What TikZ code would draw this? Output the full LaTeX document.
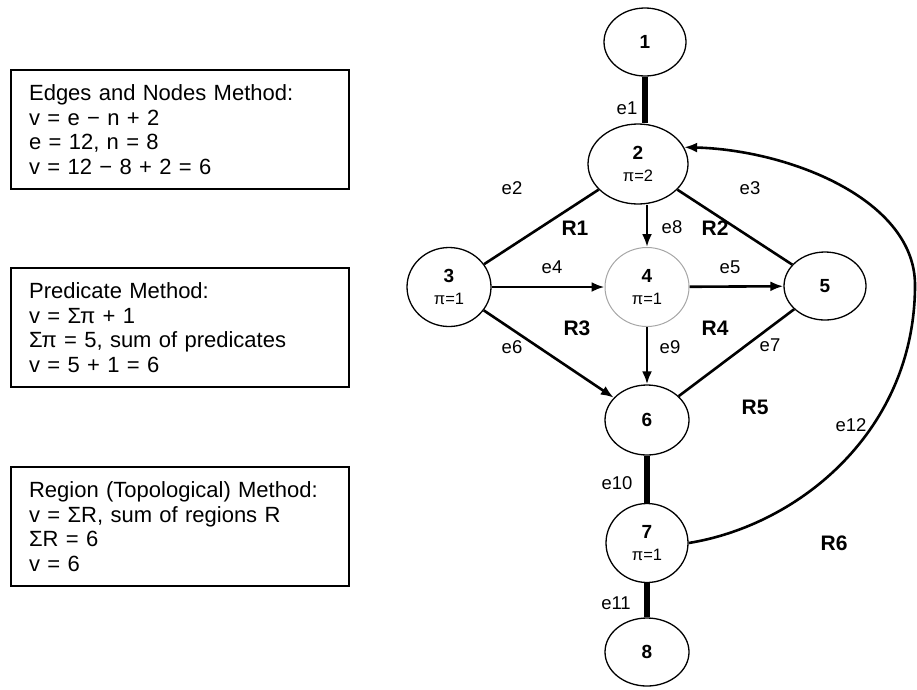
\documentclass[tikz,border=0pt]{standalone}
\usepackage{fontspec}
\setmainfont{Liberation Sans}
\usetikzlibrary{
	shapes.geometric,   %椭圆节点
	arrows.meta         %箭头
}
\newcommand{\predfont}{\fontsize{16.5}{22}\selectfont\mdseries}
\tikzstyle{method}=[rectangle,
draw,
line width=2.2pt,
anchor=north west,
align=left,
text width=302pt,
minimum width=338pt,
minimum height=119pt,
inner xsep=18pt,
inner ysep=0pt,
font=\fontsize{22}{24.5}\selectfont]
\tikzset{
	every picture/.style={
		>={Latex[length=13pt,width=10pt]},
		x=1pt,y=-1pt
}}
\tikzset{
	vertex/.style={ellipse,draw,line width=1.3pt,inner sep=0pt,
		minimum width=82pt,minimum height=68pt,align=center,
		font=\fontsize{19}{22}\selectfont\bfseries},
	pivertex/.style={vertex,minimum width=84pt,minimum height=79pt},
	link/.style={line width=2.6pt},
	thicklink/.style={line width=5.5pt},
	elabel/.style={font=\fontsize{18.5}{20}\selectfont},
	region/.style={font=\fontsize{21}{22}\selectfont\bfseries}
}
\begin{document}
\begin{tikzpicture}
\useasboundingbox (0,0) rectangle (917,689);
% 三种方法
\node[method] (edges) at (10,69) {Edges and Nodes Method:\\v = e − n + 2\\e = 12, n = 8\\v = 12 − 8 + 2 = 6};
\node[method] (pred) at (10,267) {Predicate Method:\\v = Σπ + 1\\Σπ = 5, sum of predicates\\v = 5 + 1 = 6};
\node[method] (topo) at (10,466) {Region (Topological) Method:\\v = ΣR, sum of regions R\\ΣR = 6\\v = 6};
% 流图节点
\node[vertex] (n1) at (645,42) {1};
\node[vertex,minimum width=100pt,minimum height=80pt] (n2) at (638,164) {2\\{\predfont π=2}};
\node[pivertex] (n3) at (449,287) {3\\{\predfont π=1}};
\node[pivertex,draw=gray!70,line width=1pt] (n4) at (647,287) {4\\{\predfont π=1}};
\node[vertex] (n5) at (825,286) {5};
\node[vertex,minimum width=84pt,minimum height=70pt] (n6) at (647,420) {6};
\node[pivertex,minimum width=82pt] (n7) at (647,543) {7\\{\predfont π=1}};
\node[vertex,minimum width=84pt] (n8) at (647,652) {8};
% 边
\draw[thicklink] (n1) -- (n1 |- n2.north);
\draw[link] (n2) -- (n3);
\draw[link] (n2) -- (n5);
\draw[link,->] (n3) -- (n4);
\draw[link,->] (n4) -- (n5);
\draw[link,->] (n3) -- (n6);
\draw[link] (n6) -- (n5);
\draw[link,->] (n2.south -| n4) -- (n4);
\draw[link,->] (n4) -- (n6);
\draw[thicklink] (n6) -- (n7);
\draw[thicklink] (n7) -- (n8);
\coordinate (bend) at (915,285);
\draw[link,->] (n7.east) .. controls (800,525) and (915,430) .. (bend)
	.. controls (915,200) and (790,150) .. (n2.20);
% 边的标签
\node[elabel] (le1) at (627,108) {e1};
\node[elabel] (le2) at (512,188) {e2};
\node[elabel] (le3) at (750,188) {e3};
\node[elabel] (le8) at (672,227) {e8};
\node[elabel] (le4) at (552,267) {e4};
\node[elabel] (le5) at (730,267) {e5};
\node[elabel] (le6) at (512,347) {e6};
\node[elabel] (le9) at (670,347) {e9};
\node[elabel] (le7) at (770,345) {e7};
\node[elabel] (le12) at (851,425) {e12};
\node[elabel] (le10) at (617,483) {e10};
\node[elabel] (le11) at (616,603) {e11};
% 区域
\node[region] (r1) at (575,228) {R1};
\node[region] (r2) at (715,228) {R2};
\node[region] (r3) at (577,328) {R3};
\node[region] (r4) at (715,328) {R4};
\node[region] (r5) at (755,407) {R5};
\node[region] (r6) at (834,543) {R6};
\end{tikzpicture}
\end{document}
